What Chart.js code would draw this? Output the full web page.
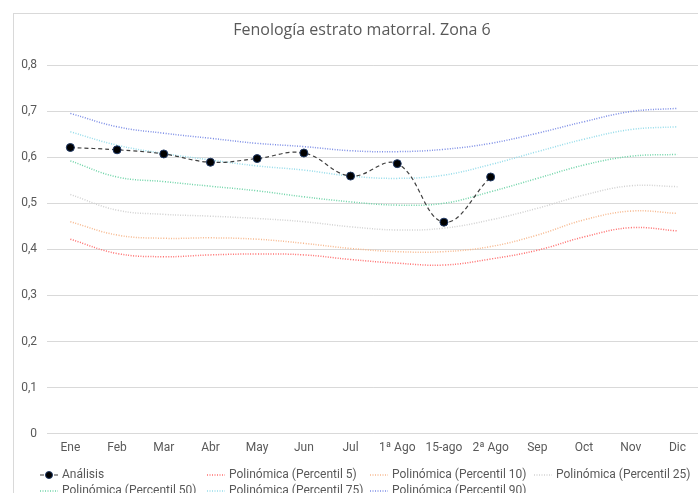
<!DOCTYPE html>
<html>
<head>
<meta charset="utf-8">
<script src="https://cdn.jsdelivr.net/npm/chart.js@4/dist/chart.umd.min.js"></script>
<style>
  html, body { margin: 0; padding: 0; background: #fff; overflow: hidden; width: 698px; height: 493px; }
  #wrap { position: absolute; left: 0; top: 0; width: 720px; height: 493px; }
</style>
</head>
<body>
<div id="wrap"><canvas id="chart" width="720" height="493"></canvas></div>
<script>
// x-axis categories
var meses = ["Ene","Feb","Mar","Abr","May","Jun","Jul","1ª Ago","15-ago","2ª Ago","Sep","Oct","Nov","Dic"];
// measured values
var analisis = [0.621,0.616,0.607,0.589,0.597,0.609,0.559,0.586,0.459,0.557];
// polynomial trendlines, one value per category
var p5  = [0.422,0.391,0.384,0.388,0.390,0.388,0.378,0.370,0.366,0.379,0.398,0.427,0.447,0.440];
var p10 = [0.460,0.431,0.424,0.425,0.422,0.413,0.402,0.395,0.395,0.406,0.431,0.464,0.483,0.478];
var p25 = [0.519,0.485,0.476,0.472,0.467,0.460,0.449,0.442,0.446,0.464,0.489,0.518,0.538,0.536];
var p50 = [0.592,0.557,0.547,0.537,0.527,0.514,0.503,0.496,0.500,0.525,0.554,0.583,0.602,0.606];
var p75 = [0.655,0.626,0.608,0.594,0.581,0.572,0.559,0.554,0.561,0.584,0.612,0.639,0.660,0.666];
var p90 = [0.695,0.666,0.652,0.641,0.630,0.623,0.614,0.612,0.617,0.630,0.652,0.677,0.699,0.706];

var titulo = "Fenología estrato matorral. Zona 6";
var fuente = "'Roboto', 'Liberation Sans', sans-serif";

function trend(label, data, color) {
  return {
    label: label,
    data: data,
    borderColor: color,
    borderWidth: 1.5,
    borderDash: [1, 1.5],
    pointRadius: 0,
    tension: 0.4,
    fill: false
  };
}

// chart frame, title and a legend laid out in columns like the original
var marco = {
  id: 'marco',
  beforeDraw: function(chart) {
    var ctx = chart.ctx;
    ctx.save();
    ctx.strokeStyle = '#d9d9d9';
    ctx.lineWidth = 1;
    ctx.strokeRect(13.5, 13.5, 900, 700);
    ctx.fillStyle = '#595959';
    ctx.font = "16px 'Open Sans', 'Liberation Sans', sans-serif";
    ctx.textAlign = 'center';
    ctx.textBaseline = 'middle';
    ctx.fillText(titulo, 362, 30);
    ctx.restore();
  },
  afterDraw: function(chart) {
    var ctx = chart.ctx;
    var cols = [40, 207, 370, 534];
    var rows = [475, 491];
    ctx.save();
    ctx.font = "12px " + fuente;
    ctx.textBaseline = 'middle';
    chart.data.datasets.forEach(function(ds, i) {
      var x = cols[i % 4];
      var y = rows[Math.floor(i / 4)];
      ctx.strokeStyle = ds.borderColor;
      ctx.lineWidth = ds.borderWidth;
      ctx.setLineDash(ds.borderDash || []);
      ctx.beginPath();
      ctx.moveTo(x, y);
      ctx.lineTo(x + 18, y);
      ctx.stroke();
      ctx.setLineDash([]);
      if (ds.pointRadius > 0) {
        ctx.fillStyle = ds.pointBackgroundColor;
        ctx.strokeStyle = ds.pointBorderColor;
        ctx.lineWidth = 1;
        ctx.beginPath();
        ctx.arc(x + 9, y, 3.5, 0, Math.PI * 2);
        ctx.fill();
        ctx.stroke();
      }
      ctx.fillStyle = '#595959';
      ctx.fillText(ds.label, x + 22, y);
    });
    ctx.restore();
  }
};

var ctx = document.getElementById("chart");
var myChart = new Chart(ctx, {
  type: 'line',
  data: {
    labels: meses,
    datasets: [
      {
        label: "Análisis",
        data: analisis,
        borderColor: "#404040",
        borderWidth: 1.2,
        borderDash: [4, 3],
        pointRadius: 4,
        pointBackgroundColor: "#000000",
        pointBorderColor: "#1f3864",
        pointBorderWidth: 1,
        tension: 0.4,
        fill: false
      },
      trend("Polinómica (Percentil 5)", p5, "#ff6f6f"),
      trend("Polinómica (Percentil 10)", p10, "#f7b88e"),
      trend("Polinómica (Percentil 25)", p25, "#d2d2d2"),
      trend("Polinómica (Percentil 50)", p50, "#6fd4a8"),
      trend("Polinómica (Percentil 75)", p75, "#95dcea"),
      trend("Polinómica (Percentil 90)", p90, "#7d8ee6")
    ]
  },
  options: {
    responsive: false,
    animation: false,
    layout: { padding: { left: 0, right: 19.2, top: 65, bottom: 37.9 } },
    plugins: {
      legend: { display: false },
      tooltip: { enabled: false },
      title: { display: false }
    },
    scales: {
      x: {
        offset: true,
        afterFit: function(scale) { scale.height = 21.4; },
        grid: { display: false, drawTicks: false },
        border: { display: false },
        ticks: {
          color: "#595959",
          font: { family: fuente, size: 12 },
          padding: 7,
          maxRotation: 0,
          autoSkip: false
        }
      },
      y: {
        min: 0,
        max: 0.8,
        afterFit: function(scale) { scale.width = 47; },
        grid: { color: "#d9d9d9", drawTicks: false },
        border: { display: false },
        ticks: {
          stepSize: 0.1,
          color: "#595959",
          font: { family: fuente, size: 12 },
          padding: 10,
          callback: function(v) {
            return v === 0 ? '0' : v.toFixed(1).replace('.', ',');
          }
        }
      }
    }
  },
  plugins: [marco]
});
</script>
</body>
</html>
